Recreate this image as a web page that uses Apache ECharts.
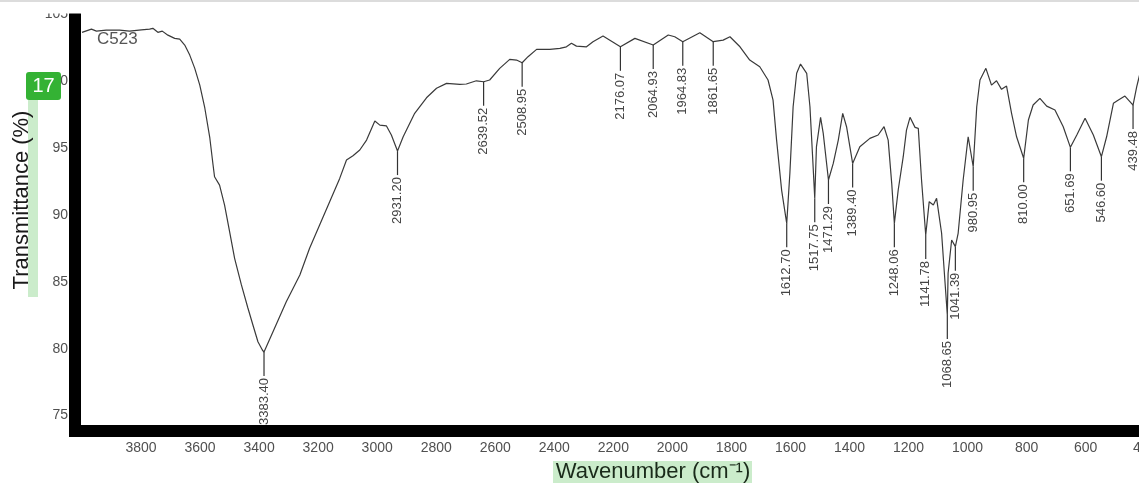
<!DOCTYPE html>
<html>
<head>
<meta charset="utf-8">
<script src="https://cdn.jsdelivr.net/npm/echarts@6/dist/echarts.min.js"></script>
<style>
html,body{margin:0;padding:0;background:#fff;}
#chart{width:1139px;height:483px;}
</style>
</head>
<body>
<div id="chart"></div>
<script>
// ---- data ----
var wavenumbers = [4000,3968,3951,3918,3873,3839,3799,3771,3760,3743,3728,3709,3686,3669,3652,3635,3618,3601,3584,3567,3556,3551,3534,3517,3500,3483,3460,3438,3421,3404,3389,3383.40,3353,3308,3262,3229,3195,3161,3127,3104,3082,3059,3036,3008,2991,2969,2952,2931.20,2912,2873,2833,2799,2765,2720,2698,2664,2639.52,2619,2585,2551,2528,2508.95,2489,2460,2415,2381,2359,2342,2325,2291,2269,2235,2176.07,2127,2064.93,2014,1992,1964.83,1907,1861.65,1828,1805,1771,1738,1704,1676,1659,1647,1630,1612.70,1602,1591,1579,1566,1545,1534,1525,1517.75,1512,1498,1489,1471.29,1455,1438,1423,1410,1389.40,1365,1331,1303,1283,1269,1257,1248.06,1235,1218,1207,1195,1178,1167,1156,1141.78,1130,1116,1105,1088,1077,1068.65,1066,1054,1041.39,1032,1015,998,980.95,969,958,938,919,902,885,868,851,834,810.00,794,778,755,732,704,676,651.69,630,602,574,546.60,529,506,489,467,439.48,427,416,400];
var transmittance = [103.63,103.87,103.72,103.80,103.80,103.72,103.82,103.87,103.93,103.63,103.72,103.42,103.18,103.13,102.68,101.93,100.94,99.69,97.98,95.74,93.72,92.84,92.22,90.73,88.74,86.75,84.76,83.04,81.77,80.52,79.90,79.75,81.27,83.51,85.50,87.50,89.24,90.98,92.72,94.09,94.41,94.84,95.58,97.00,96.70,96.65,95.96,94.76,95.83,97.58,98.74,99.45,99.82,99.74,99.77,100.01,99.94,100.07,100.94,101.61,101.56,101.36,101.81,102.36,102.36,102.43,102.55,102.81,102.60,102.55,102.93,103.35,102.55,103.18,102.68,103.43,103.30,102.93,103.60,102.93,103.05,103.30,102.55,101.56,101.06,100.07,98.57,95.58,91.85,89.36,93.10,98.07,100.57,101.26,100.57,98.07,94.34,91.23,95.08,97.28,96.08,92.60,93.84,95.58,97.58,96.58,93.84,95.08,95.71,95.96,96.58,95.58,92.35,89.36,91.85,94.34,96.33,97.28,96.53,96.46,92.60,88.49,90.98,90.73,91.23,88.62,85.13,82.52,85.63,88.12,87.62,88.62,92.60,95.83,93.59,98.07,100.07,100.94,99.69,100.01,99.37,99.62,97.58,95.83,94.22,97.08,98.20,98.70,98.12,97.83,96.58,95.04,95.96,97.21,95.96,94.34,95.83,98.33,98.57,98.87,98.20,99.57,100.57,101.6];

var peakWavenumbers = [3383.40,2931.20,2639.52,2508.95,2176.07,2064.93,1964.83,1861.65,1612.70,1517.75,1471.29,1389.40,1248.06,1141.78,1068.65,1041.39,980.95,810.00,651.69,546.60,439.48];
var peakTransmittance = [79.75,94.76,99.94,101.36,102.55,102.68,102.93,102.93,89.36,91.23,92.60,93.84,89.36,88.49,82.52,87.62,93.59,94.22,95.04,94.34,98.20];

var sampleName = 'C523';
var xAxisTitle = 'Wavenumber (cm\u207B\u00B9)';
var yAxisTitle = 'Transmittance (%)';
var badgeText = '17';
var xTicksStep = 200;
var yTicksStep = 5;

// ---- build chart ----
var spectrum = wavenumbers.map(function (w, i) { return [w, transmittance[i]]; });
var peaks = peakWavenumbers.map(function (w, i) { return [w, peakTransmittance[i]]; });

var chart = echarts.init(document.getElementById('chart'), null, {renderer: 'canvas'});
var FONT = '"Liberation Sans", Arial, sans-serif';

chart.setOption({
  animation: false,
  backgroundColor: '#ffffff',
  grid: {left: 82, right: -5.7, top: 14, bottom: 67.4, containLabel: false, outerBoundsMode: 'none'},
  xAxis: {
    type: 'value',
    inverse: true,
    min: 400, max: 4000, interval: xTicksStep,
    offset: 15.4,
    axisLine: {show: true, onZero: false, lineStyle: {color: '#000', width: 12}},
    axisTick: {show: false},
    splitLine: {show: false},
    axisLabel: {
      margin: 10, color: '#505050', fontSize: 14, fontFamily: FONT,
      hideOverlap: false,
      formatter: function (v) { return v === 4000 ? '' : String(v); }
    }
  },
  yAxis: {
    type: 'value',
    min: 75, max: 105, interval: yTicksStep,
    offset: 7,
    axisLine: {show: true, onZero: false, lineStyle: {color: '#000', width: 12}},
    axisTick: {show: false},
    splitLine: {show: false},
    axisLabel: {margin: 7, color: '#505050', fontSize: 14, fontFamily: FONT}
  },
  series: [
    {
      type: 'line',
      data: spectrum,
      showSymbol: false,
      symbol: 'none',
      lineStyle: {color: '#3a3a3a', width: 1.2},
      z: 3
    },
    {
      type: 'custom',
      data: peaks,
      clip: false,
      z: 4,
      renderItem: function (params, api) {
        var w = api.value(0);
        var p = api.coord([w, api.value(1)]);
        var L = 24;
        return {
          type: 'group',
          children: [
            {type: 'line', shape: {x1: p[0], y1: p[1], x2: p[0], y2: p[1] + L},
             style: {stroke: '#333', lineWidth: 1.2}},
            {type: 'text', x: p[0], y: p[1] + L + 2, rotation: Math.PI / 2,
             style: {text: w.toFixed(2), fill: '#444', font: '13px ' + FONT,
                     align: 'right', verticalAlign: 'middle'}}
          ]
        };
      }
    }
  ],
  graphic: [
    // corner of the thick axis frame
    {type: 'rect', shape: {x: 69, y: 414, width: 12, height: 23}, style: {fill: '#000'}, z: 50},
    {type: 'rect', shape: {x: 69, y: 425, width: 14, height: 12}, style: {fill: '#000'}, z: 50},
    // blank strip at the very top (crop of the original figure)
    {type: 'rect', shape: {x: 0, y: 2, width: 1139, height: 11.5}, style: {fill: '#fff'}, z: 90},
    {type: 'rect', shape: {x: 0, y: 0, width: 1139, height: 2}, style: {fill: '#dcdcdc'}, z: 91},
    // sample name
    {type: 'text', x: 97, y: 39, z: 60,
     style: {text: sampleName, fill: '#555', font: '17px ' + FONT, verticalAlign: 'middle'}},
    // highlights
    {type: 'rect', shape: {x: 28, y: 100, width: 10, height: 197}, style: {fill: '#cbeccb'}, z: 40},
    {type: 'rect', shape: {x: 553, y: 461, width: 199, height: 22}, style: {fill: '#cbeccb'}, z: 40},
    // axis titles
    {type: 'text', x: 22, y: 200, rotation: Math.PI / 2, z: 45,
     style: {text: yAxisTitle, fill: '#1a1a1a', font: '22px ' + FONT, align: 'center', verticalAlign: 'middle'}},
    {type: 'text', x: 653, y: 472, z: 45,
     style: {text: xAxisTitle, fill: '#1a2a1a', font: '22px ' + FONT, align: 'center', verticalAlign: 'middle'}},
    // badge
    {type: 'rect', shape: {x: 26, y: 72, width: 35, height: 28, r: 3}, style: {fill: '#34b234'}, z: 95},
    {type: 'text', x: 43.5, y: 86, z: 96,
     style: {text: badgeText, fill: '#fff', font: '20px ' + FONT, align: 'center', verticalAlign: 'middle'}}
  ]
});
</script>
</body>
</html>
